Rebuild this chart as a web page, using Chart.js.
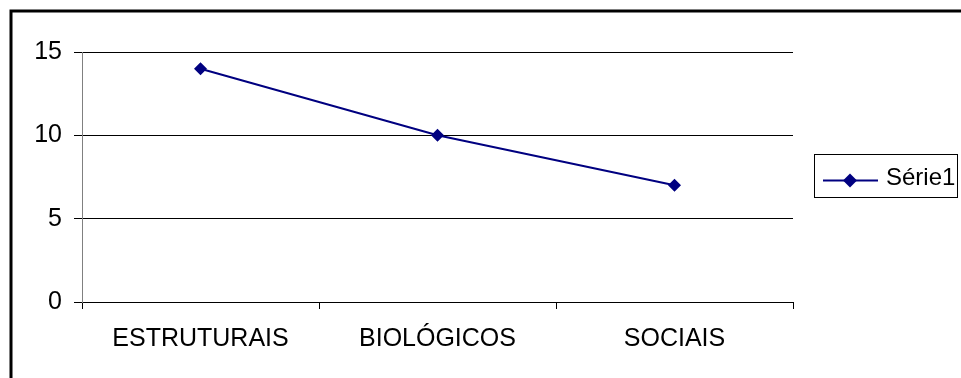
<!DOCTYPE html>
<html>
<head>
<meta charset="utf-8">
<script src="https://cdn.jsdelivr.net/npm/chart.js@4/dist/chart.umd.min.js"></script>
<style>
  html, body { margin: 0; padding: 0; background: #fff; }
  #wrap { width: 961px; height: 378px; position: relative; }
</style>
</head>
<body>
<div id="wrap"><canvas id="c" width="961" height="378"></canvas></div>
<script>
const categories = ['ESTRUTURAIS', 'BIOLÓGICOS', 'SOCIAIS'];
const serie1 = [14, 10, 7];
const seriesName = 'Série1';
const yMin = 0, yMax = 15, yStep = 5;

const FONT = "'Liberation Sans', Arial, sans-serif";
const NAVY = '#000080';

const framePlugin = {
  id: 'frame',
  afterDraw(chart) {
    const ctx = chart.ctx;
    ctx.save();
    // outer frame (left and top edges visible)
    ctx.strokeStyle = '#000';
    ctx.lineWidth = 3;
    ctx.beginPath();
    ctx.moveTo(11, 378);
    ctx.lineTo(11, 11);
    ctx.lineTo(961, 11);
    ctx.stroke();

    // legend
    const bx = 814.5, by = 154.5, bw = 143, bh = 43;
    ctx.lineWidth = 1;
    ctx.strokeStyle = '#000';
    ctx.strokeRect(bx, by, bw, bh);
    const ly = 180.5;
    ctx.strokeStyle = NAVY;
    ctx.lineWidth = 2;
    ctx.beginPath();
    ctx.moveTo(823, ly);
    ctx.lineTo(878, ly);
    ctx.stroke();
    const mx = 850, r = 7;
    ctx.fillStyle = NAVY;
    ctx.beginPath();
    ctx.moveTo(mx - r, ly);
    ctx.lineTo(mx, ly - r);
    ctx.lineTo(mx + r, ly);
    ctx.lineTo(mx, ly + r);
    ctx.closePath();
    ctx.fill();
    ctx.fillStyle = '#000';
    ctx.font = '24px ' + FONT;
    ctx.textBaseline = 'alphabetic';
    ctx.textAlign = 'left';
    ctx.fillText(seriesName, 886, 185);
    ctx.restore();
  }
};

new Chart(document.getElementById('c'), {
  type: 'line',
  data: {
    labels: categories,
    datasets: [{
      label: seriesName,
      data: serie1,
      borderColor: NAVY,
      backgroundColor: NAVY,
      borderWidth: 2,
      pointStyle: 'rectRot',
      pointRadius: 6.5,
      pointBorderWidth: 0,
      pointBackgroundColor: NAVY,
      pointBorderColor: NAVY,
      tension: 0,
      fill: false
    }]
  },
  options: {
    responsive: false,
    animation: false,
    events: [],
    layout: { padding: { left: 0, right: 168, top: 52, bottom: 0 } },
    plugins: {
      legend: { display: false },
      tooltip: { enabled: false },
      title: { display: false }
    },
    scales: {
      x: {
        offset: true,
        grid: {
          display: true,
          offset: true,
          drawOnChartArea: false,
          drawTicks: true,
          tickLength: 7,
          color: '#000',
          lineWidth: 1
        },
        border: { display: true, color: '#000', width: 1 },
        ticks: {
          color: '#000',
          font: { family: FONT, size: 25 },
          padding: 15,
          maxRotation: 0,
          autoSkip: false
        },
        afterFit(scale) { scale.height = 76; }
      },
      y: {
        min: yMin,
        max: yMax,
        grid: {
          display: true,
          drawOnChartArea: true,
          drawTicks: true,
          tickLength: 8,
          color: '#000',
          lineWidth: 1
        },
        border: { display: true, color: '#808080', width: 1 },
        ticks: {
          stepSize: yStep,
          color: '#000',
          font: { family: FONT, size: 25 },
          padding: 12
        },
        afterFit(scale) { scale.width = 82; }
      }
    }
  },
  plugins: [framePlugin]
});
</script>
</body>
</html>
